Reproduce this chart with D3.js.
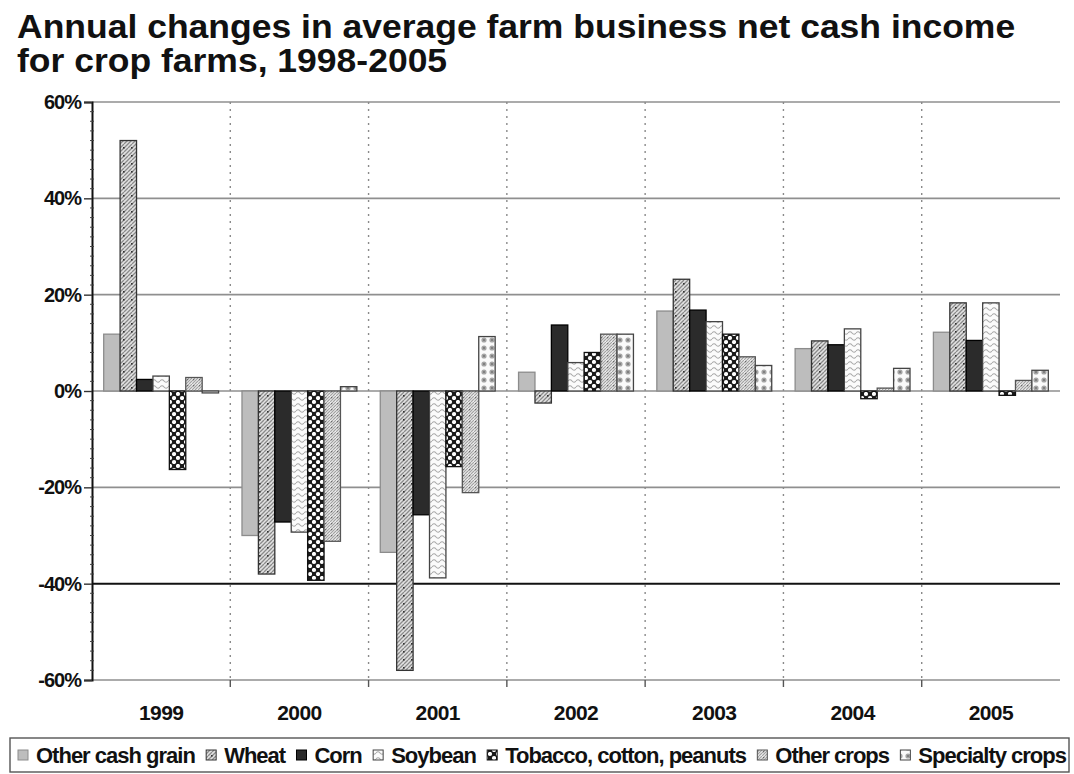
<!DOCTYPE html>
<html>
<head>
<meta charset="utf-8">
<script src="https://cdn.jsdelivr.net/npm/d3@7"></script>
<style>
  html, body { margin: 0; padding: 0; background: #fff; }
  svg { display: block; }
  text { font-family: "Liberation Sans", Arial, sans-serif; font-weight: bold; fill: #111; }
</style>
</head>
<body>
<svg id="chart" width="1074" height="774"></svg>
<script>
// Years on the category axis
const years = ["1999", "2000", "2001", "2002", "2003", "2004", "2005"];

// Crop farm types (series)
const seriesNames = ["Other cash grain", "Wheat", "Corn", "Soybean",
                     "Tobacco, cotton, peanuts", "Other crops", "Specialty crops"];

// Annual change in average net cash income, percent
const otherCashGrain = [11.8, -30.0, -33.5, 3.9, 16.6, 8.8, 12.2];
const wheat          = [52.0, -38.0, -58.0, -2.5, 23.2, 10.4, 18.3];
const corn           = [2.4, -27.2, -25.7, 13.7, 16.8, 9.6, 10.5];
const soybean        = [3.1, -29.3, -38.8, 5.9, 14.4, 12.9, 18.3];
const tobacco        = [-16.3, -39.3, -15.7, 8.0, 11.8, -1.6, -0.9];
const otherCrops     = [2.8, -31.2, -21.1, 11.8, 7.1, 0.6, 2.2];
const specialty      = [-0.4, 0.9, 11.3, 11.8, 5.3, 4.7, 4.3];

// Y axis ticks
const yTicks = [-60, -40, -20, 0, 20, 40, 60];

const seriesValues = [otherCashGrain, wheat, corn, soybean, tobacco, otherCrops, specialty];

const svg = d3.select("#chart");
const plot = { left: 92, right: 1060, top: 102, bottom: 680 };

// ---- fill patterns ----
const defs = svg.append("defs");

function pat(id, w, h) {
  return defs.append("pattern").attr("id", id)
    .attr("patternUnits", "userSpaceOnUse").attr("width", w).attr("height", h);
}

// Wheat: dense diagonal hatch with scattered dark dots
{
  const p = pat("pWheat", 8, 8);
  p.append("rect").attr("width", 8).attr("height", 8).attr("fill", "#e2e2e2");
  p.append("path").attr("d", "M0,4 L4,0 M0,8 L8,0 M4,8 L8,4 M-1,1 L1,-1 M7,9 L9,7")
    .attr("stroke", "#8a8a8a").attr("stroke-width", 1.3);
  p.append("rect").attr("x", 3).attr("y", 3).attr("width", 1.6).attr("height", 1.6).attr("fill", "#333");
}
// Soybean: light wavy lines on white
{
  const p = pat("pSoy", 8, 6);
  p.append("rect").attr("width", 8).attr("height", 6).attr("fill", "#fbfbfb");
  p.append("path").attr("d", "M0,3 Q2,0.5 4,3 T8,3")
    .attr("fill", "none").attr("stroke", "#a8a8a8").attr("stroke-width", 1.1);
}
// Tobacco, cotton, peanuts: black with white checker dots
{
  const p = pat("pTob", 8, 8);
  p.append("rect").attr("width", 8).attr("height", 8).attr("fill", "#1a1a1a");
  p.append("circle").attr("cx", 2).attr("cy", 2).attr("r", 2.1).attr("fill", "#fff");
  p.append("circle").attr("cx", 6).attr("cy", 6).attr("r", 2.1).attr("fill", "#fff");
}
// Other crops: lighter diagonal hatch
{
  const p = pat("pOther", 6, 6);
  p.append("rect").attr("width", 6).attr("height", 6).attr("fill", "#efefef");
  p.append("path").attr("d", "M0,3 L3,0 M0,6 L6,0 M3,6 L6,3")
    .attr("stroke", "#a0a0a0").attr("stroke-width", 1.1);
  p.append("rect").attr("x", 1).attr("y", 1).attr("width", 1.2).attr("height", 1.2).attr("fill", "#666");
}
// Specialty crops: grey dots on white
{
  const p = pat("pSpec", 8, 8);
  p.append("rect").attr("width", 8).attr("height", 8).attr("fill", "#fafafa");
  p.append("circle").attr("cx", 4).attr("cy", 4).attr("r", 2.6).attr("fill", "#a5a5a5");
  p.append("circle").attr("cx", 4).attr("cy", 4).attr("r", 1.1).attr("fill", "#777");
}

const fills   = ["#bdbdbd", "url(#pWheat)", "#2b2b2b", "url(#pSoy)", "url(#pTob)", "url(#pOther)", "url(#pSpec)"];
const strokes = ["#8c8c8c", "#333", "#000", "#444", "#111", "#555", "#444"];

// ---- scales ----
const x0 = d3.scaleBand().domain(years).range([plot.left, plot.right]).padding(0);
const gap = 11.7;
const x1 = d3.scaleBand().domain(seriesNames).range([gap, x0.bandwidth() - gap]).padding(0);
const y = d3.scaleLinear().domain([-60, 60]).range([plot.bottom, plot.top]);

// ---- title (slightly widened face) ----
const titleG = svg.append("g").attr("transform", "translate(17,0) scale(1.076,1)");
const title = titleG.append("text").style("font-size", "33px");
title.append("tspan").attr("x", 0).attr("y", 38)
  .text("Annual changes in average farm business net cash income");
title.append("tspan").attr("x", 0).attr("y", 72).text("for crop farms, 1998-2005");

// ---- gridlines ----
const grid = svg.append("g");
grid.selectAll("line.h").data(yTicks.filter(d => d !== -40)).join("line")
  .attr("x1", plot.left).attr("x2", plot.right)
  .attr("y1", d => y(d)).attr("y2", d => y(d))
  .attr("stroke", "#8f8f8f").attr("stroke-width", 1.6);
grid.append("line")
  .attr("x1", plot.left).attr("x2", plot.right)
  .attr("y1", y(-40)).attr("y2", y(-40))
  .attr("stroke", "#111").attr("stroke-width", 2);

// vertical dotted separators between years
const seps = years.slice(1).map(d => x0(d));
grid.selectAll("line.v").data(seps).join("line")
  .attr("x1", d => d).attr("x2", d => d)
  .attr("y1", plot.top).attr("y2", plot.bottom)
  .attr("stroke", "#8a8a8a").attr("stroke-width", 1.4)
  .attr("stroke-dasharray", "2,5");

// ---- bars ----
const bars = svg.append("g");
seriesNames.forEach((name, si) => {
  bars.append("g").selectAll("rect").data(seriesValues[si]).join("rect")
    .attr("x", (d, i) => x0(years[i]) + x1(name))
    .attr("width", x1.bandwidth())
    .attr("y", d => y(Math.max(0, d)))
    .attr("height", d => Math.abs(y(d) - y(0)))
    .attr("fill", fills[si])
    .attr("stroke", strokes[si])
    .attr("stroke-width", 1.3);
});

// ---- y axis ----
const yAxis = svg.append("g").attr("transform", `translate(${plot.left},0)`)
  .call(d3.axisLeft(y).tickValues(yTicks).tickFormat(d => d + "%").tickSize(8).tickPadding(3));
yAxis.select(".domain").attr("stroke", "#111").attr("stroke-width", 2);
yAxis.selectAll(".tick line").attr("stroke", "#333").attr("stroke-width", 1.4);
yAxis.selectAll(".tick text")
  .style("font-size", "20px").style("letter-spacing", "-1px")
  .style("font-family", "'Liberation Sans', Arial, sans-serif").style("font-weight", "bold")
  .attr("fill", "#111");
// minor ticks on the value axis
const minor = d3.range(-60, 61, 2).filter(d => d % 20 !== 0);
svg.append("g").selectAll("line").data(minor).join("line")
  .attr("x1", plot.left - 2).attr("x2", plot.left + 2)
  .attr("y1", d => y(d)).attr("y2", d => y(d))
  .attr("stroke", "#444").attr("stroke-width", 1);

// ---- x axis ticks and labels ----
const xg = svg.append("g");
xg.selectAll("line").data(seps).join("line")
  .attr("x1", d => d).attr("x2", d => d)
  .attr("y1", plot.bottom).attr("y2", plot.bottom + 7)
  .attr("stroke", "#555").attr("stroke-width", 1.4);
xg.selectAll("text").data(years).join("text")
  .attr("x", d => x0(d) + x0.bandwidth() / 2)
  .attr("y", 720)
  .attr("text-anchor", "middle")
  .style("font-size", "21px").style("letter-spacing", "-0.6px")
  .text(d => d);

// ---- legend ----
const legend = svg.append("g");
legend.append("rect").attr("x", 10).attr("y", 738).attr("width", 1059).attr("height", 34)
  .attr("fill", "#fff").attr("stroke", "#555").attr("stroke-width", 1.4);

const items = legend.selectAll("g.item").data(seriesNames).join("g");
items.append("rect").attr("width", 10).attr("height", 10).attr("y", 750)
  .attr("fill", (d, i) => fills[i]).attr("stroke", (d, i) => strokes[i]).attr("stroke-width", 1);
items.append("text").attr("y", 763)
  .style("font-size", "22px").style("letter-spacing", "-1px")
  .text(d => d);

// lay out items side by side, spread to fill the legend box
const widths = [];
items.select("text").each(function () { widths.push(this.getComputedTextLength()); });
const swatchGap = 8, startX = 18, endX = 1066;
const textTotal = d3.sum(widths) + widths.length * (10 + swatchGap);
const itemGap = Math.max(4, (endX - startX - textTotal) / (widths.length - 1));
let cx = startX;
items.each(function (d, i) {
  const g = d3.select(this);
  g.select("rect").attr("x", cx);
  g.select("text").attr("x", cx + 10 + swatchGap);
  cx += 10 + swatchGap + widths[i] + itemGap;
});
</script>
</body>
</html>
